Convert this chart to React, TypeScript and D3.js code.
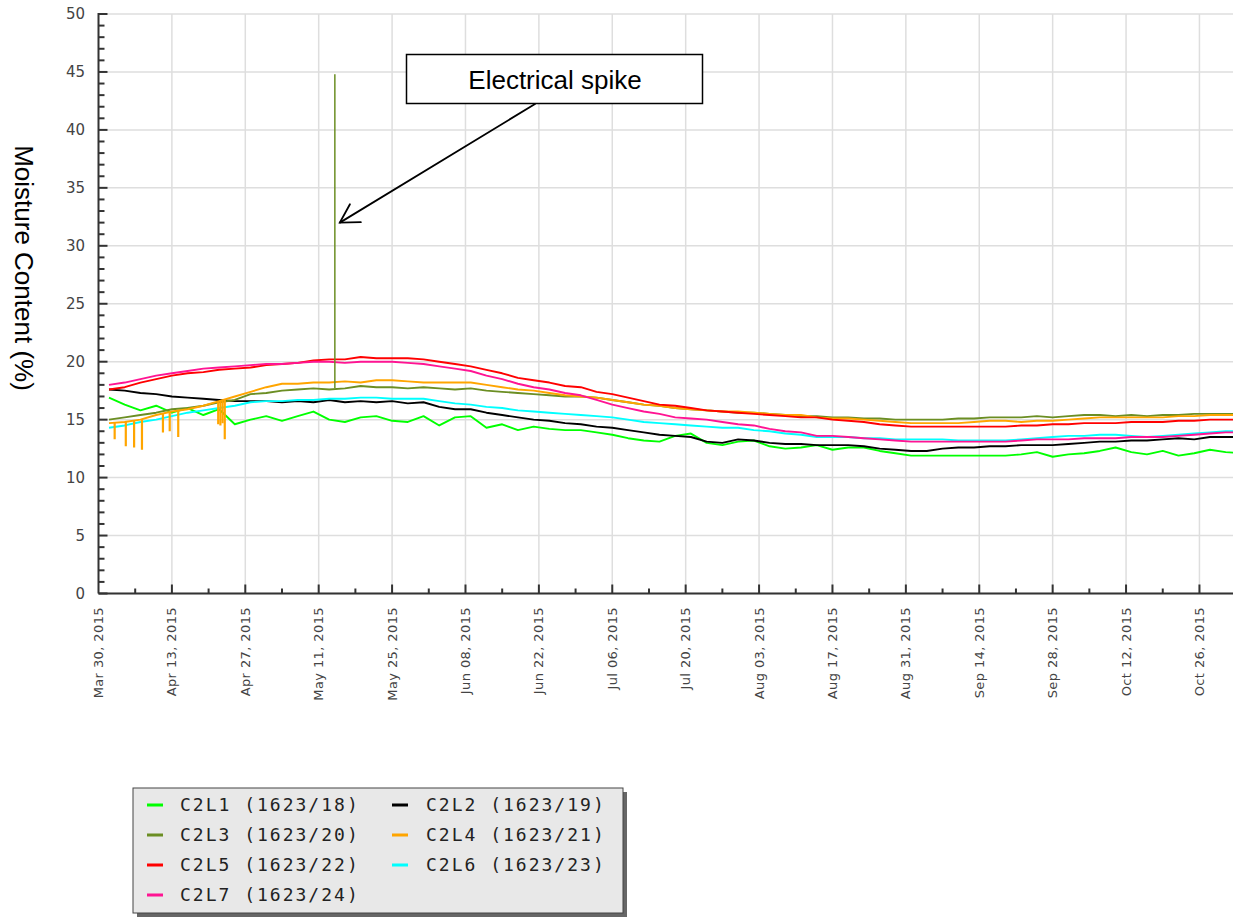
import React from 'react';
import * as d3 from 'd3';

// ---------- data ----------
const axisStart = new Date(Date.UTC(2015, 2, 30));
const axisEnd = new Date(Date.UTC(2015, 2, 30) + 216.4 * 864e5);
// samples every 3 days from Apr 1 to Nov 3, 2015 (73 samples)
const sampleDates: Date[] = d3.utcDay.range(new Date(Date.UTC(2015, 3, 1)), new Date(Date.UTC(2015, 10, 4)), 3);

const c2l1 = [
  16.9, 16.3, 15.8, 16.2, 15.6, 16.0, 15.4, 15.9, 14.6, 15.0,
  15.3, 14.9, 15.3, 15.7, 15.0, 14.8, 15.2, 15.3, 14.9, 14.8,
  15.3, 14.5, 15.2, 15.3, 14.3, 14.6, 14.1, 14.4, 14.2, 14.1,
  14.1, 13.9, 13.7, 13.4, 13.2, 13.1, 13.6, 13.8, 13.0, 12.8,
  13.1, 13.2, 12.7, 12.5, 12.6, 12.8, 12.4, 12.6, 12.6, 12.3,
  12.1, 11.9, 11.9, 11.9, 11.9, 11.9, 11.9, 11.9, 12.0, 12.2,
  11.8, 12.0, 12.1, 12.3, 12.6, 12.2, 12.0, 12.3, 11.9, 12.1,
  12.4, 12.2, 12.1,
];
const c2l2 = [
  17.6, 17.5, 17.3, 17.2, 17.0, 16.9, 16.8, 16.7, 16.6, 16.6,
  16.6, 16.5, 16.6, 16.5, 16.7, 16.5, 16.6, 16.5, 16.6, 16.4,
  16.5, 16.1, 15.9, 15.9, 15.6, 15.4, 15.2, 15.0, 14.9, 14.7,
  14.6, 14.4, 14.3, 14.1, 13.9, 13.7, 13.6, 13.5, 13.1, 13.0,
  13.3, 13.2, 13.0, 12.9, 12.9, 12.8, 12.8, 12.8, 12.7, 12.5,
  12.4, 12.3, 12.3, 12.5, 12.6, 12.6, 12.7, 12.7, 12.8, 12.8,
  12.8, 12.9, 13.0, 13.1, 13.1, 13.2, 13.2, 13.3, 13.4, 13.3,
  13.5, 13.5, 13.5,
];
const c2l3 = [
  15.0, 15.2, 15.4, 15.6, 15.9, 16.0, 16.2, 16.5, 16.7, 17.2,
  17.3, 17.5, 17.6, 17.7, 17.6, 17.7, 17.9, 17.8, 17.8, 17.7,
  17.8, 17.7, 17.6, 17.7, 17.5, 17.4, 17.3, 17.2, 17.1, 17.0,
  17.0, 16.9, 16.7, 16.5, 16.3, 16.2, 16.0, 15.9, 15.8, 15.7,
  15.6, 15.6, 15.5, 15.4, 15.3, 15.3, 15.2, 15.2, 15.1, 15.1,
  15.0, 15.0, 15.0, 15.0, 15.1, 15.1, 15.2, 15.2, 15.2, 15.3,
  15.2, 15.3, 15.4, 15.4, 15.3, 15.4, 15.3, 15.4, 15.4, 15.5,
  15.5, 15.5, 15.5,
];
const c2l4 = [
  14.7, 14.8, 15.0, 15.4, 15.7, 15.9, 16.2, 16.6, 17.0, 17.4,
  17.8, 18.1, 18.1, 18.2, 18.2, 18.3, 18.2, 18.4, 18.4, 18.3,
  18.2, 18.2, 18.2, 18.2, 18.0, 17.8, 17.6, 17.5, 17.3, 17.1,
  17.0, 16.9, 16.7, 16.5, 16.3, 16.2, 16.0, 15.9, 15.8, 15.7,
  15.7, 15.6, 15.5, 15.4, 15.4, 15.2, 15.1, 15.1, 15.0, 14.9,
  14.8, 14.7, 14.7, 14.7, 14.7, 14.8, 14.9, 14.9, 14.8, 14.9,
  14.9, 15.0, 15.1, 15.2, 15.2, 15.2, 15.2, 15.2, 15.3, 15.3,
  15.4, 15.4, 15.4,
];
const c2l5 = [
  17.6, 17.8, 18.2, 18.5, 18.8, 19.0, 19.1, 19.3, 19.4, 19.5,
  19.7, 19.8, 19.9, 20.1, 20.2, 20.2, 20.4, 20.3, 20.3, 20.3,
  20.2, 20.0, 19.8, 19.6, 19.3, 19.0, 18.6, 18.4, 18.2, 17.9,
  17.8, 17.4, 17.2, 16.9, 16.6, 16.3, 16.2, 16.0, 15.8, 15.7,
  15.6, 15.5, 15.4, 15.3, 15.2, 15.2, 15.0, 14.9, 14.8, 14.6,
  14.5, 14.4, 14.4, 14.4, 14.4, 14.4, 14.4, 14.4, 14.5, 14.5,
  14.6, 14.6, 14.7, 14.7, 14.7, 14.8, 14.8, 14.8, 14.9, 14.9,
  15.0, 15.0, 15.0,
];
const c2l6 = [
  14.3, 14.5, 14.8, 15.0, 15.3, 15.6, 15.8, 16.0, 16.2, 16.5,
  16.6, 16.6, 16.7, 16.7, 16.8, 16.8, 16.9, 16.9, 16.8, 16.8,
  16.8, 16.6, 16.4, 16.3, 16.1, 16.0, 15.8, 15.7, 15.6, 15.5,
  15.4, 15.3, 15.2, 15.0, 14.8, 14.7, 14.6, 14.5, 14.4, 14.3,
  14.3, 14.1, 14.0, 13.8, 13.7, 13.5, 13.5, 13.5, 13.4, 13.4,
  13.3, 13.3, 13.3, 13.3, 13.2, 13.2, 13.2, 13.2, 13.3, 13.4,
  13.5, 13.6, 13.6, 13.7, 13.7, 13.6, 13.5, 13.6, 13.7, 13.8,
  13.9, 14.0, 14.0,
];
const c2l7 = [
  18.0, 18.2, 18.5, 18.8, 19.0, 19.2, 19.4, 19.5, 19.6, 19.7,
  19.8, 19.8, 19.9, 20.0, 20.0, 19.9, 20.0, 20.0, 20.0, 19.9,
  19.8, 19.6, 19.4, 19.2, 18.8, 18.5, 18.1, 17.8, 17.6, 17.3,
  17.1, 16.7, 16.3, 16.0, 15.7, 15.5, 15.2, 15.1, 15.0, 14.8,
  14.6, 14.5, 14.2, 14.0, 13.9, 13.6, 13.6, 13.5, 13.4, 13.3,
  13.2, 13.1, 13.1, 13.1, 13.1, 13.1, 13.1, 13.1, 13.2, 13.3,
  13.3, 13.3, 13.4, 13.4, 13.4, 13.5, 13.5, 13.5, 13.6, 13.7,
  13.8, 13.9, 13.9,
];

// downward glitches of C2L4 in April
const c2l4DipDates = [
  '2015-04-02T02:00Z', '2015-04-04T05:00Z', '2015-04-05T19:00Z', '2015-04-07T07:00Z',
  '2015-04-11T07:00Z', '2015-04-12T14:00Z', '2015-04-14T05:00Z', '2015-04-21T20:00Z',
  '2015-04-22T06:00Z', '2015-04-22T16:00Z', '2015-04-23T02:00Z',
];
const c2l4DipValues = [13.3, 12.7, 12.6, 12.4, 13.9, 14.0, 13.5, 14.6, 14.5, 14.7, 13.3];

// electrical spike on C2L3
const spikeDate = '2015-05-14T02:00Z';
const spikeBase = 17.7;
const spikeTop = 44.8;
const arrowTipValue = 32.0;

const seriesNames = ['C2L1 (1623/18)', 'C2L2 (1623/19)', 'C2L3 (1623/20)', 'C2L4 (1623/21)', 'C2L5 (1623/22)', 'C2L6 (1623/23)', 'C2L7 (1623/24)'];
const seriesColors = ['#00ff00', '#000000', '#6b8e23', '#ffa500', '#ff0000', '#00ffff', '#ff1493'];
const seriesValues = [c2l1, c2l2, c2l3, c2l4, c2l5, c2l6, c2l7];

const yTicks = d3.range(0, 51, 1);
const yLabelTicks = d3.range(0, 51, 5);
const xMajorTicks = d3.utcDay.range(axisStart, new Date(Date.UTC(2015, 10, 1)), 14);
const xMinorTicks = d3.utcDay.range(new Date(Date.UTC(2015, 3, 6)), new Date(Date.UTC(2015, 10, 3)), 14);

const yTitle = 'Moisture Content (%)';
const annotationText = 'Electrical spike';

// ---------- chart ----------
const W = 1233;
const H = 920;
const plotLeft = 98.5;
const plotRight = 1233;
const plotTop = 14;
const plotBottom = 593.5;

export default function App() {
  const x = d3.scaleUtc().domain([axisStart, axisEnd]).range([plotLeft, plotRight]);
  const y = d3.scaleLinear().domain([0, 50]).range([plotBottom, plotTop]);
  const fmt = d3.utcFormat('%b %d, %Y');

  const line = d3
    .line<number>()
    .x((_, i) => x(sampleDates[i]))
    .y((v) => y(v));

  const interp = (vals: number[], t: Date) => {
    const i = Math.max(0, Math.min(sampleDates.length - 2, d3.bisectRight(sampleDates, t) - 1));
    const t0 = +sampleDates[i];
    const t1 = +sampleDates[i + 1];
    const f = (+t - t0) / (t1 - t0);
    return vals[i] + (vals[i + 1] - vals[i]) * f;
  };

  const sx = x(new Date(spikeDate));
  const tipX = sx + 5;
  const tipY = y(arrowTipValue);
  const tailX = 535;
  const tailY = 104;
  const ang = Math.atan2(tailY - tipY, tailX - tipX);
  const headLen = 21;
  const spread = (30 * Math.PI) / 180;
  const h1 = [tipX + headLen * Math.cos(ang - spread), tipY + headLen * Math.sin(ang - spread)];
  const h2 = [tipX + headLen * Math.cos(ang + spread), tipY + headLen * Math.sin(ang + spread)];

  const legendX = 133;
  const legendY = 788;
  const legendW = 490;
  const legendH = 125;
  const rowH = 30;

  return (
    <svg width={W} height={H} style={{ position: 'absolute', left: 0, top: 0, background: '#fff' }}>
      <defs>
        <clipPath id="plotClip">
          <rect x={plotLeft} y={0} width={plotRight - plotLeft} height={plotBottom} />
        </clipPath>
      </defs>
      {/* grid */}
      <g stroke="#dedede" strokeWidth={1.5}>
        {yLabelTicks.map((t) => (
          <line key={'gy' + t} x1={plotLeft} x2={plotRight} y1={y(t)} y2={y(t)} />
        ))}
        {xMajorTicks.slice(1).map((t) => (
          <line key={'gx' + +t} x1={x(t)} x2={x(t)} y1={plotTop} y2={plotBottom} />
        ))}
      </g>

      {/* series */}
      <g clipPath="url(#plotClip)" fill="none" strokeWidth={1.9} strokeLinejoin="round">
        {seriesValues.map((vals, si) => (
          <path key={si} d={line(vals) || ''} stroke={seriesColors[si]} />
        ))}
        {c2l4DipDates.map((ds, i) => {
          const t = new Date(ds);
          return (
            <line
              key={'dip' + i}
              x1={x(t)}
              x2={x(t)}
              y1={y(interp(c2l4, t))}
              y2={y(c2l4DipValues[i])}
              stroke={seriesColors[3]}
              strokeWidth={2.2}
            />
          );
        })}
        <line x1={sx} x2={sx} y1={y(spikeBase)} y2={y(spikeTop)} stroke={seriesColors[2]} strokeWidth={1.5} />
      </g>

      {/* axes */}
      <g stroke="#333" strokeWidth={2}>
        <line x1={plotLeft} x2={plotLeft} y1={plotTop - 1} y2={plotBottom} />
        <line x1={plotLeft} x2={plotRight} y1={plotBottom} y2={plotBottom} />
        {yTicks.map((t) => (
          <line key={'yt' + t} x1={plotLeft} x2={plotLeft + (t % 5 === 0 ? 9 : 6)} y1={y(t)} y2={y(t)} />
        ))}
        {xMajorTicks.slice(1).map((t) => (
          <line key={'xt' + +t} x1={x(t)} x2={x(t)} y1={plotBottom} y2={plotBottom - 9} />
        ))}
        {xMinorTicks.map((t) => (
          <line key={'xm' + +t} x1={x(t)} x2={x(t)} y1={plotBottom} y2={plotBottom - 5} />
        ))}
      </g>

      {/* y tick labels */}
      <g fontFamily="DejaVu Sans, sans-serif" fontSize={15} fill="#444" textAnchor="end">
        {yLabelTicks.map((t) => (
          <text key={'yl' + t} x={85} y={y(t)} dy="0.36em">
            {t}
          </text>
        ))}
      </g>

      {/* x tick labels */}
      <g fontFamily="DejaVu Sans, sans-serif" fontSize={13} fill="#444" textAnchor="end" letterSpacing={0.4}>
        {xMajorTicks.map((t) => (
          <text key={'xl' + +t} transform={`translate(${x(t) + 4.5},607) rotate(-90)`}>
            {fmt(t)}
          </text>
        ))}
      </g>

      {/* y title */}
      <text
        transform={`translate(15,268) rotate(90)`}
        textAnchor="middle"
        fontFamily="Liberation Sans, Arial, sans-serif"
        fontSize={26}
        fill="#000"
      >
        {yTitle}
      </text>

      {/* annotation */}
      <rect x={406.5} y={54.5} width={296} height={49} fill="#fff" stroke="#000" strokeWidth={1.5} />
      <text x={555} y={89} textAnchor="middle" fontFamily="Liberation Sans, Arial, sans-serif" fontSize={26} fill="#000">
        {annotationText}
      </text>
      <g stroke="#000" strokeWidth={1.8} fill="none" strokeLinecap="round">
        <line x1={tailX} y1={tailY} x2={tipX} y2={tipY} />
        <polyline points={`${h1[0]},${h1[1]} ${tipX},${tipY} ${h2[0]},${h2[1]}`} />
      </g>

      {/* legend */}
      <rect x={legendX + 4} y={legendY + 4} width={legendW} height={legendH} fill="#666" />
      <rect x={legendX} y={legendY} width={legendW} height={legendH} fill="#e8e8e8" stroke="#444" strokeWidth={1} />
      <g fontFamily="DejaVu Sans Mono, monospace" fontSize={18} fill="#222" letterSpacing={2}>
        {seriesNames.map((name, i) => {
          const col = i % 2;
          const row = Math.floor(i / 2);
          const cy = 805 + row * rowH;
          const sxl = col === 0 ? 147 : 392;
          const tx = col === 0 ? 180 : 426;
          return (
            <g key={name}>
              <line x1={sxl} x2={sxl + 16} y1={cy} y2={cy} stroke={seriesColors[i]} strokeWidth={3} />
              <text x={tx} y={cy} dy="0.36em">
                {name}
              </text>
            </g>
          );
        })}
      </g>
    </svg>
  );
}
